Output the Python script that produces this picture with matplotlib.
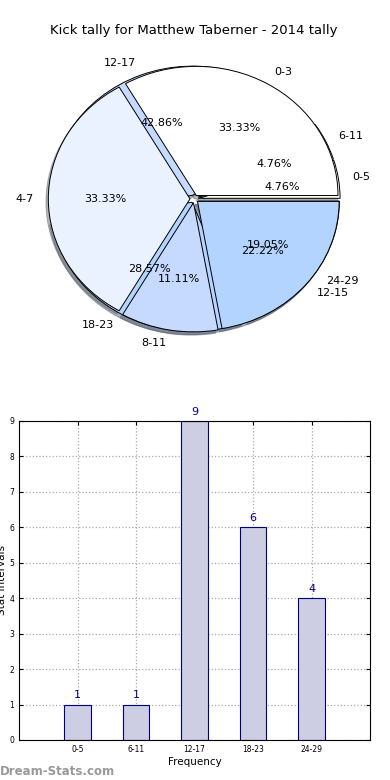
import matplotlib
matplotlib.use("Agg")
import matplotlib.pyplot as plt

# kick tallies by interval
ranges_a = ["0-5", "6-11", "12-17", "18-23", "24-29"]
counts_a = [1, 1, 9, 6, 4]
ranges_b = ["0-3", "4-7", "8-11", "12-15"]
counts_b = [3, 3, 1, 2]

pie_colors = ["white", "#ebf2ff", "#c6d9ff", "#b3d4ff"]
shadow_opts = {"ox": -0.012, "oy": -0.018, "shade": 0.55}

fig = plt.figure(figsize=(3.9, 7.8), dpi=100)

# pie part
ax1 = fig.add_axes([0.044, 0.538, 0.908, 0.414])
ax1.pie(counts_a, labels=ranges_a, autopct="%1.2f%%", colors=pie_colors + pie_colors[:1],
        explode=[0.03] * len(counts_a), shadow=shadow_opts,
        wedgeprops={"edgecolor": "black", "linewidth": 0.7},
        textprops={"fontsize": 8})
ax1.pie(counts_b, labels=ranges_b, autopct="%1.2f%%", colors=pie_colors,
        explode=[0.03] * len(counts_b), shadow=shadow_opts,
        wedgeprops={"edgecolor": "black", "linewidth": 0.7},
        textprops={"fontsize": 8})
ax1.set_aspect("auto")
ax1.set_xlim(-1.25, 1.25)
ax1.set_ylim(-1.25, 1.25)
ax1.set_title("Kick tally for Matthew Taberner - 2014 tally", fontsize=9.5, pad=1)

# bar part
ax2 = fig.add_axes([0.049, 0.0513, 0.9, 0.409])
xpos = range(len(ranges_a))
ax2.bar(xpos, counts_a, width=0.45, color="#cdcde3", edgecolor="navy", linewidth=0.8, zorder=2)
for x, c in zip(xpos, counts_a):
    ax2.text(x, c + 0.12, str(c), ha="center", va="bottom", color="navy", fontsize=8)
ax2.set_xlim(-1, 5)
ax2.set_ylim(0, 9)
ax2.set_xticks(list(xpos))
ax2.set_xticklabels(ranges_a)
ax2.set_yticks(range(10))
ax2.tick_params(direction="in", labelsize=5.5, length=3, top=True, right=True)
ax2.grid(True, linestyle=":", color="#aaaaaa", linewidth=0.9, zorder=0)
ax2.set_axisbelow(True)
ax2.set_xlabel("Frequency", fontsize=7.5, labelpad=2)
ax2.set_ylabel("Stat Intervals", fontsize=7.5, labelpad=2)

fig.text(0.0, 0.006, "Dream-Stats.com", color="#999999", fontsize=8.5, fontweight="bold")

fig.savefig("out.png", dpi=100)
